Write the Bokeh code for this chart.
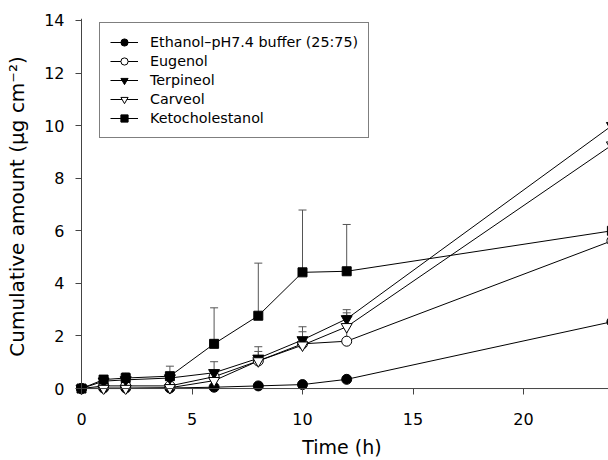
from bokeh.plotting import figure
from bokeh.models import (ColumnDataSource, Range1d, Whisker, TeeHead, Legend,
                          LegendItem, SingleIntervalTicker, Span)
from bokeh.embed import file_html
from bokeh.resources import INLINE

# ---- data ----
time_h = [0, 1, 2, 4, 6, 8, 10, 12, 24]

ethanol = [0, 0.02, 0.02, 0.02, 0.05, 0.10, 0.15, 0.35, 2.54]
eugenol = [0, 0.10, 0.10, 0.10, 0.45, 1.05, 1.70, 1.80, 5.62]
terpineol = [0, 0.28, 0.33, 0.40, 0.60, 1.15, 1.85, 2.65, 10.0]
carveol = [0, 0.00, 0.00, 0.03, 0.30, 1.05, 1.65, 2.35, 9.26]
ketochol = [0, 0.34, 0.40, 0.47, 1.70, 2.77, 4.42, 4.46, 6.00]

ethanol_err = [0, 0, 0, 0, 0.02, 0.03, 0.05, 0.10, 0]
eugenol_err = [0, 0.02, 0.02, 0.05, 0.20, 0.20, 0.46, 0.98, 0]
terpineol_err = [0, 0.05, 0.05, 0.10, 0.42, 0.44, 0.50, 0.35, 0]
carveol_err = [0, 0, 0, 0.05, 0.30, 0.36, 0.30, 0.53, 0]
ketochol_err = [0, 0.05, 0.20, 0.38, 1.37, 2.00, 2.37, 1.78, 0]

labels = ["Ethanol\u2013pH7.4 buffer (25:75)", "Eugenol", "Terpineol",
          "Carveol", "Ketocholestanol"]
values = [ethanol, eugenol, terpineol, carveol, ketochol]
errors = [ethanol_err, eugenol_err, terpineol_err, carveol_err, ketochol_err]
markers = ["circle", "circle", "inverted_triangle", "inverted_triangle", "square"]
fills = ["black", "white", "black", "white", "black"]
sizes = [10, 10, 11, 11, 9]

FONT = "DejaVu Sans"
AXIS_COLOR = "#444444"

p = figure(width=608, height=460,
           x_range=Range1d(-0.2715, 23.846), y_range=Range1d(-0.227, 14.075),
           output_backend="svg", toolbar_location=None,
           min_border_left=75, min_border_right=0,
           min_border_top=18, min_border_bottom=64)
p.outline_line_color = None
p.xgrid.grid_line_color = None
p.ygrid.grid_line_color = None
p.background_fill_color = "white"
p.border_fill_color = "white"

# axis lines drawn at the data zero
p.add_layout(Span(location=0, dimension="height", line_color=AXIS_COLOR, line_width=1))
p.add_layout(Span(location=0, dimension="width", line_color=AXIS_COLOR, line_width=1))

sources = []
for v, e in zip(values, errors):
    sources.append(ColumnDataSource(dict(
        x=time_h, y=v, upper=[a + b for a, b in zip(v, e)])))

# error bars (upper only)
for src in sources:
    w = Whisker(source=src, base="x", upper="upper", lower="y",
                dimension="height", line_color="#555555", line_width=1,
                lower_head=None,
                upper_head=TeeHead(size=8, line_color="#555555", line_width=1),
                level="underlay")
    p.add_layout(w)

line_rs = []
for src in sources:
    line_rs.append(p.line("x", "y", source=src, line_color="black", line_width=1))

mark_rs = []
for src, m, f, s in zip(sources, markers, fills, sizes):
    mark_rs.append(p.scatter("x", "y", source=src, marker=m, size=s,
                             fill_color=f, line_color="black", line_width=1))

items = [LegendItem(label=lab, renderers=[lr, mr])
         for lab, lr, mr in zip(labels, line_rs, mark_rs)]
legend = Legend(items=items, location=(24, 256))
legend.border_line_color = "black"
legend.border_line_width = 1
legend.padding = 10
legend.spacing = 1
legend.margin = 0
legend.glyph_height = 18
legend.label_height = 18
legend.glyph_width = 28
legend.label_standoff = 12
legend.label_text_font = FONT
legend.label_text_font_size = "14.3px"
legend.label_text_color = "black"
legend.background_fill_alpha = 1
p.add_layout(legend, "center")

# axes (ticks reach from the frame edge to the zero lines)
for ax in (p.xaxis[0], p.yaxis[0]):
    ax.axis_line_color = None
    ax.major_tick_line_color = AXIS_COLOR
    ax.major_tick_in = 6
    ax.major_tick_out = 0
    ax.minor_tick_line_color = None
    ax.major_label_text_font = FONT
    ax.major_label_text_font_size = "16px"
    ax.major_label_text_color = "black"
    ax.axis_label_text_font = FONT
    ax.axis_label_text_font_style = "normal"
    ax.axis_label_text_color = "black"

p.xaxis.ticker = SingleIntervalTicker(interval=5)
p.yaxis.ticker = SingleIntervalTicker(interval=2)
p.xaxis.axis_label = "Time (h)"
p.xaxis.axis_label_text_font_size = "19px"
p.yaxis.axis_label = "Cumulative amount (\u03bcg cm\u207b\u00b2)"
p.yaxis.axis_label_text_font_size = "20px"
p.xaxis.major_label_standoff = 14
p.yaxis.major_label_standoff = 7
p.xaxis.axis_label_standoff = 8
p.yaxis.axis_label_standoff = 12

open("out.html", "w").write(file_html(p, INLINE))
